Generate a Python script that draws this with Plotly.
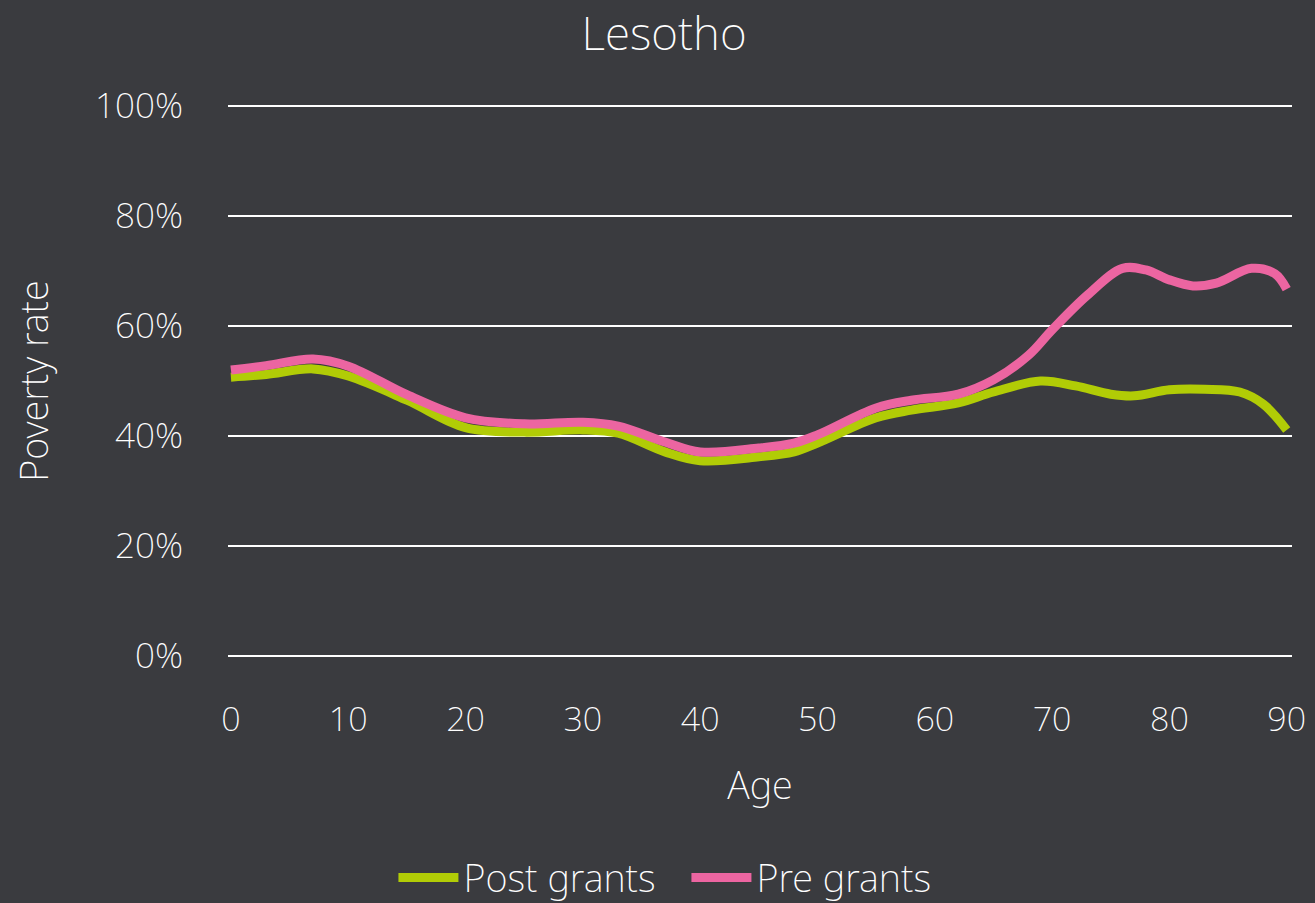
import plotly.graph_objects as go

# Poverty rate by age, Lesotho
ages_post = [0, 3, 7, 10, 15, 20, 25, 30, 33, 37, 40, 45, 48, 50, 55, 58, 62, 65, 69, 72, 75, 77, 80, 83, 86, 88, 90]
post_grants = [0.507, 0.512, 0.522, 0.509, 0.465, 0.415, 0.407, 0.411, 0.405, 0.371, 0.355, 0.362, 0.371, 0.387,
               0.433, 0.447, 0.460, 0.480, 0.500, 0.491, 0.476, 0.473, 0.484, 0.485, 0.480, 0.458, 0.411]

ages_pre = [0, 3, 7, 10, 15, 20, 25, 30, 33, 37, 40, 45, 48, 50, 55, 58, 62, 65, 68, 70, 73, 76, 78, 80, 82, 84, 87, 89, 90]
pre_grants = [0.520, 0.528, 0.540, 0.527, 0.475, 0.433, 0.422, 0.425, 0.418, 0.389, 0.371, 0.378, 0.387, 0.402,
              0.451, 0.465, 0.476, 0.502, 0.547, 0.593, 0.656, 0.705, 0.702, 0.684, 0.673, 0.678, 0.705, 0.695, 0.667]

age_ticks = [0, 10, 20, 30, 40, 50, 60, 70, 80, 90]
rate_ticks = [0, 0.2, 0.4, 0.6, 0.8, 1.0]

BG = "#3a3b3f"
FONT = "Noto Sans"
W = 200


def font(size):
    return dict(family=FONT, size=size, color="white", weight=W)


fig = go.Figure()
fig.add_trace(go.Scatter(x=ages_post, y=post_grants, name="Post grants", mode="lines",
                         line=dict(color="#b1cc06", width=9, shape="spline", smoothing=1.0)))
fig.add_trace(go.Scatter(x=ages_pre, y=pre_grants, name="Pre grants", mode="lines",
                         line=dict(color="#ec65a1", width=9, shape="spline", smoothing=1.0)))

fig.update_layout(
    width=1315, height=903,
    paper_bgcolor=BG, plot_bgcolor=BG,
    margin=dict(l=228, r=23, t=104, b=245, autoexpand=False),
    font=font(34),
    title=dict(text="Lesotho", x=0.505, xanchor="center", y=0.962, yanchor="middle", font=font(46)),
    xaxis=dict(range=[-0.25, 90.45], tickvals=age_ticks,
               showgrid=False, zeroline=False, showline=False, ticks="",
               ticklabelstandoff=38, tickfont=font(34),
               title=dict(text="Age", standoff=32, font=font(38))),
    yaxis=dict(range=[-0.004, 1.004], tickvals=rate_ticks, tickformat=".0%",
               showgrid=True, gridcolor="white", gridwidth=1.5, zeroline=False, showline=False, ticks="",
               ticklabelstandoff=44, tickfont=font(35),
               title=dict(text="Poverty rate", standoff=34, font=font(38))),
    legend=dict(orientation="h", xref="container", yref="container", x=0.522, xanchor="center",
                y=0.028, yanchor="middle", font=font(38), itemwidth=60, entrywidth=218,
                bgcolor="rgba(0,0,0,0)"),
    showlegend=True,
)

fig.write_html("out.html")
